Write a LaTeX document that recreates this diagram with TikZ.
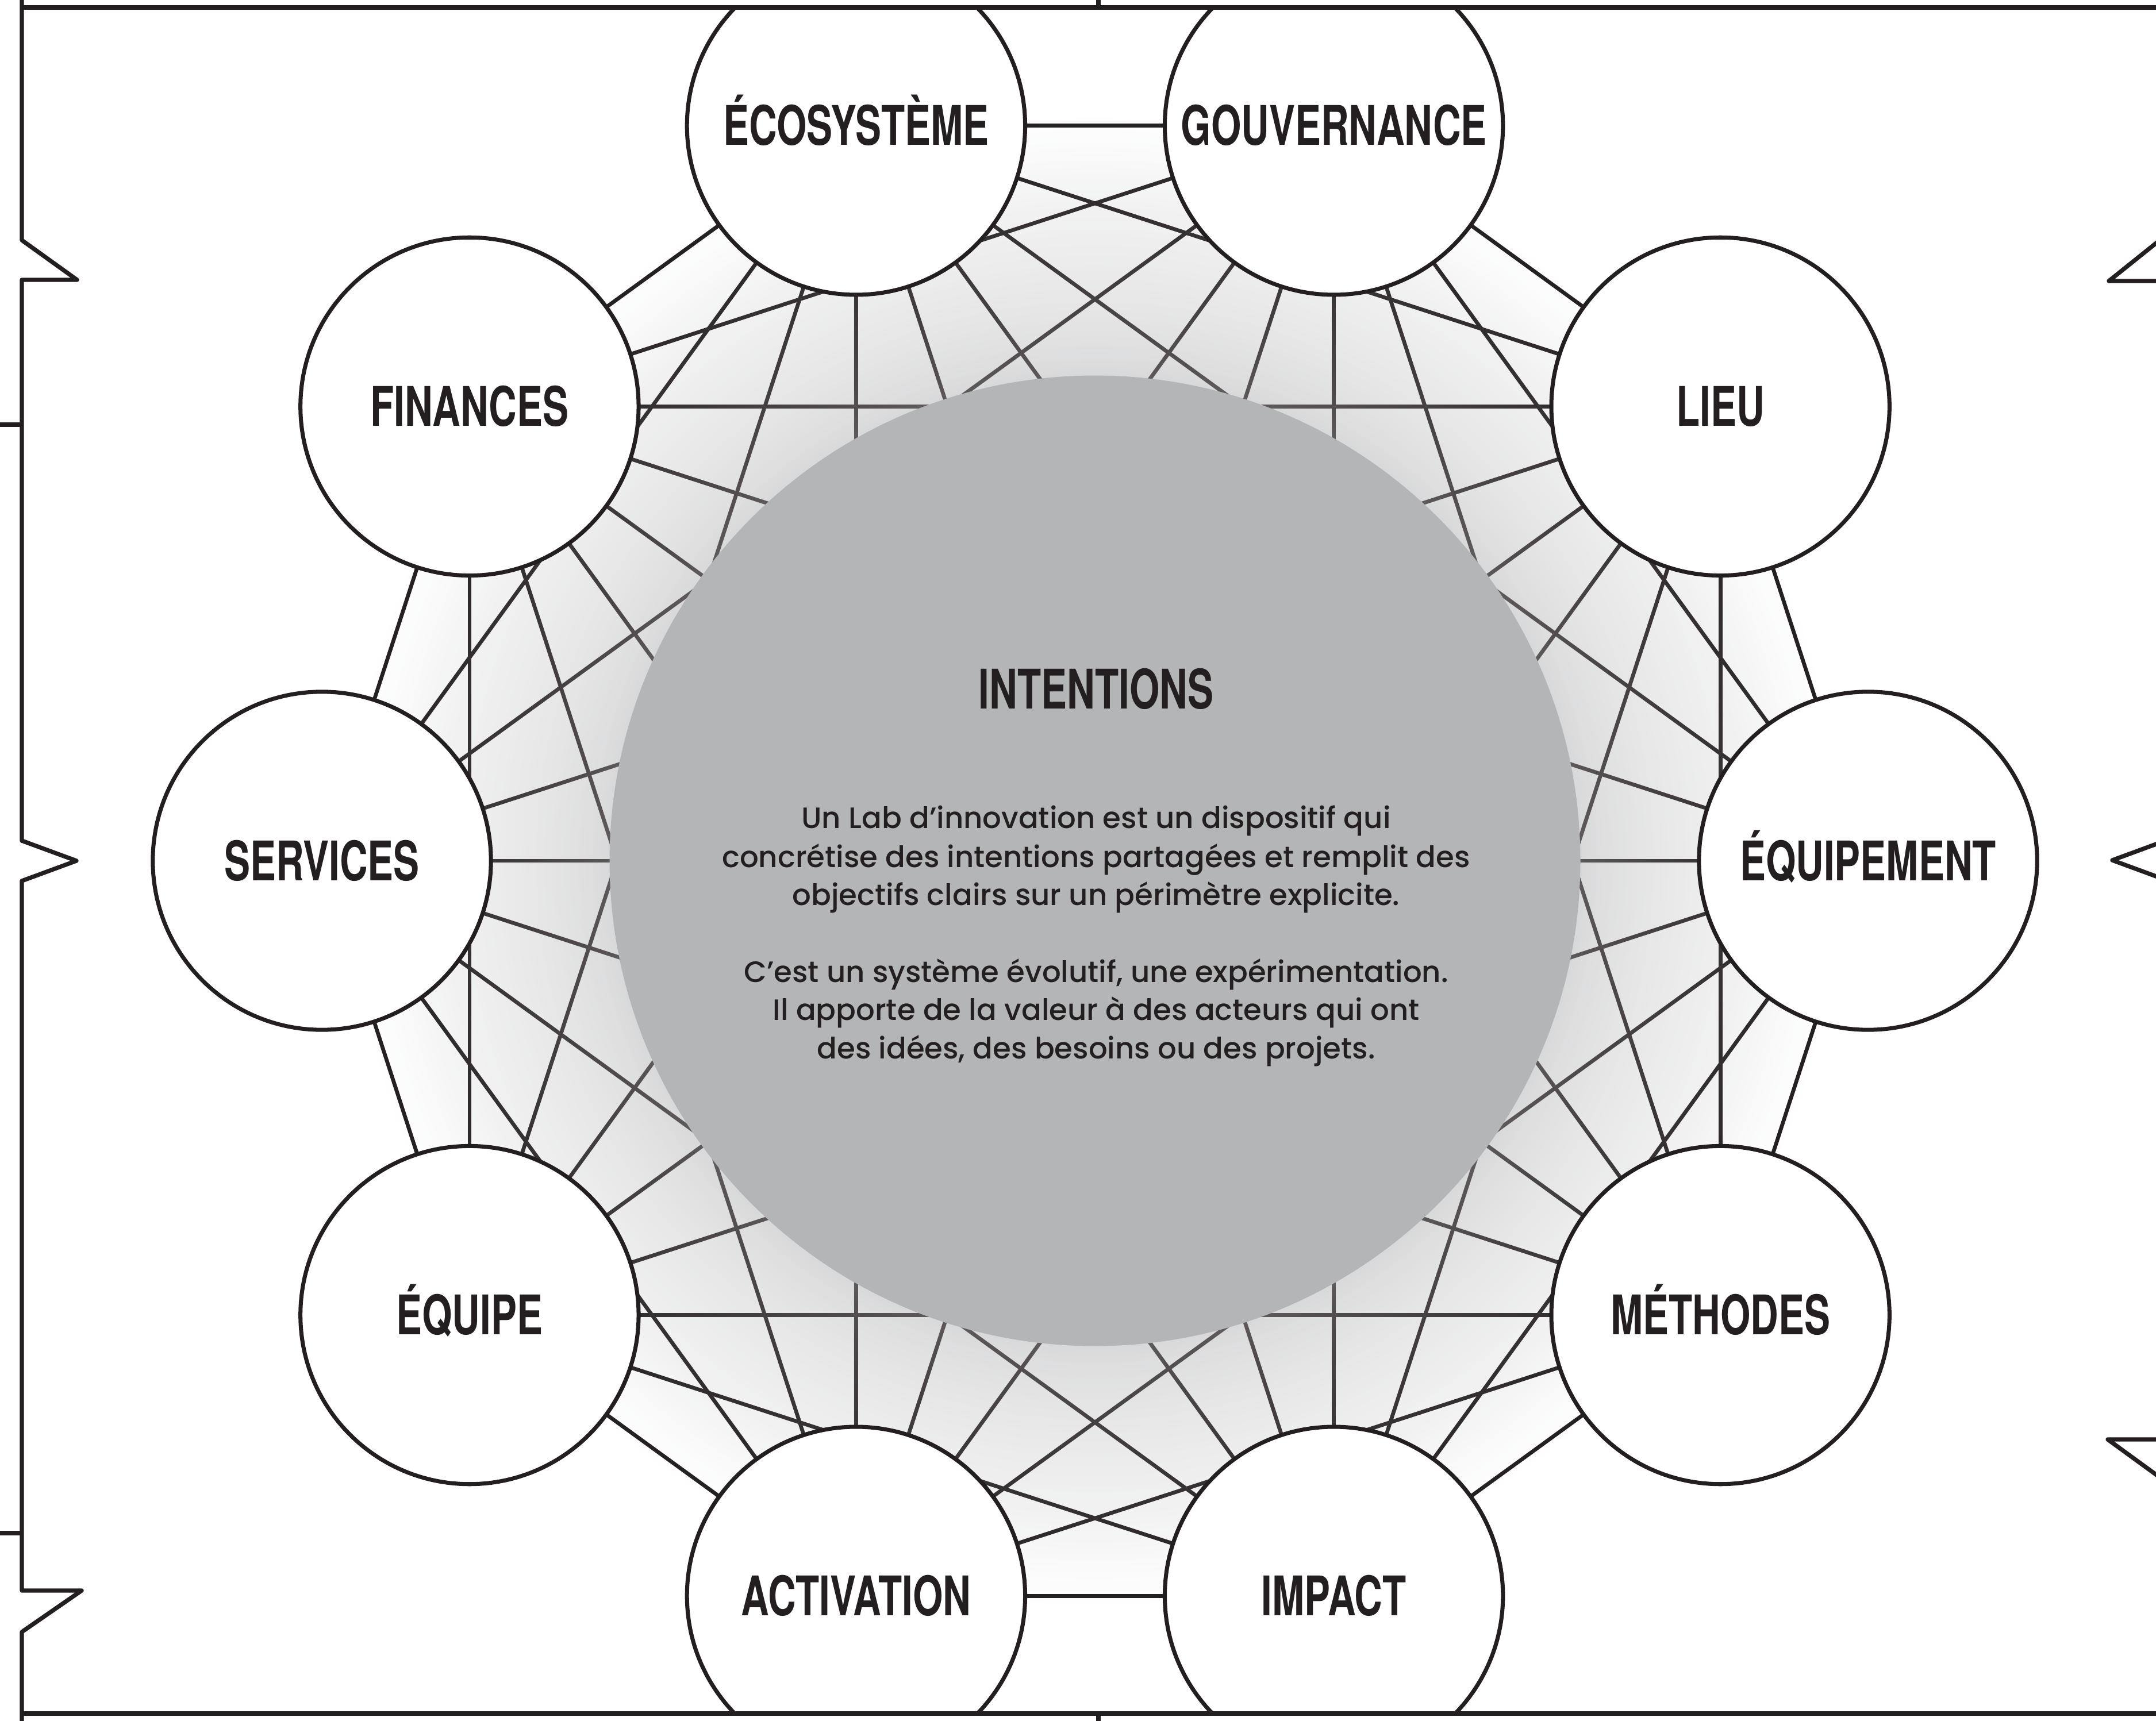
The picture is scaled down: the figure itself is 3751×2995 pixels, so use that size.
\documentclass[tikz,border=0pt]{standalone}
\usepackage{fontspec}
\usepackage{graphicx}
\setmainfont{Poppins}
\newfontfamily\bodyfont{Poppins}[UprightFont=* Medium]
\newfontfamily\lblfont{TeX Gyre Heros}
\definecolor{ink}{RGB}{35,31,32}
\definecolor{coregray}{RGB}{180,181,183}
\tikzset{
  hubshape/.style={circle, minimum size=5.88cm, inner sep=0pt, outer sep=0pt},
  hub/.style={circle, draw=ink, line width=2pt, fill=white, minimum size=5.88cm, inner sep=0pt},
  link/.style={draw=ink, line width=1.9pt},
  glowring/.style={fill=coregray, fill opacity=0.0132},
  framestyle/.style={draw=ink, line width=2.1pt, line join=round, line cap=butt},
  lbl/.style={font=\lblfont\bfseries\fontsize{27pt}{27pt}\selectfont, text=ink, inner sep=0pt, anchor=base},
  bodytext/.style={font=\bodyfont\fontsize{14.6pt}{17pt}\selectfont, text=ink, inner sep=0pt, anchor=base},
}
\begin{document}
\begin{tikzpicture}[x=0.01cm, y=-0.01cm]
\useasboundingbox (0,0) rectangle (3751,2995);
\begin{scope}
  \clip (0,13) rectangle (3751,2981);
  % invisible anchors for the ten hubs
  \foreach \a [count=\i from 0] in {0,36,...,324}
    \node[hubshape] (n\i) at ({1905+1345*cos(\a)},{1498-1345*sin(\a)}) {};
  % complete graph
  \foreach \i in {0,...,8} {
    \pgfmathtruncatemacro\s{\i+1}
    \foreach \j in {\s,...,9}
      \draw[link] (n\i) -- (n\j);
  }
  % soft glow around the core (stacked translucent discs)
  \foreach \k in {1,...,60} {
    \pgfmathsetmacro\rr{8.44+4.5*(\k/60)^1.5}
    \fill[glowring] (1905,1498) circle[radius=\rr cm];
  }
  % core
  \node[circle, fill=coregray, minimum size=16.88cm, inner sep=0pt] (core) at (1905,1498) {};
  % visible hubs with labels
  \foreach \t [count=\i from 0] in {ÉQUIPEMENT, LIEU, GOUVERNANCE, ÉCOSYSTÈME, FINANCES, SERVICES, ÉQUIPE, ACTIVATION, IMPACT, MÉTHODES} {
    \node[hub] (h\i) at (n\i.center) {};
    \node[lbl] (l\i) at ([yshift=-0.34cm]n\i.center) {\scalebox{0.71}[1]{\t}};
  }
\end{scope}
% central texts
\node[lbl] (title) at (1907,1234) {\scalebox{0.71}[1]{INTENTIONS}};
\node[bodytext] (t1) at (1907,1442) {Un Lab d’innovation est un dispositif qui};
\node[bodytext] (t2) at (1907,1509) {concrétise des intentions partagées et remplit des};
\node[bodytext] (t3) at (1907,1575) {objectifs clairs sur un périmètre explicite.};
\node[bodytext] (t4) at (1907,1709) {C’est un système évolutif, une expérimentation.};
\node[bodytext] (t5) at (1907,1775) {Il apporte de la valeur à des acteurs qui ont};
\node[bodytext] (t6) at (1907,1842) {des idées, des besoins ou des projets.};
% frame
\draw[framestyle] (38,0) -- (38,418) -- (134,487) -- (38,487) -- (38,1463) -- (133,1498) -- (38,1533) -- (38,2768) -- (142,2768) -- (38,2840) -- (38,2995);
\draw[framestyle] (3770,0) -- (3770,408) -- (3669,489) -- (3770,489) -- (3770,1462) -- (3675,1497) -- (3770,1532) -- (3770,2505) -- (3667,2505) -- (3770,2580) -- (3770,2995);
\draw[framestyle] (38,13) -- (3770,13);
\draw[framestyle] (38,2982) -- (3770,2982);
\draw[framestyle] (0,739) -- (38,739);
\draw[framestyle] (0,2668) -- (38,2668);
\draw[framestyle] (1911,0) -- (1911,13);
\draw[framestyle] (1911,2982) -- (1911,2995);
\end{tikzpicture}
\end{document}
